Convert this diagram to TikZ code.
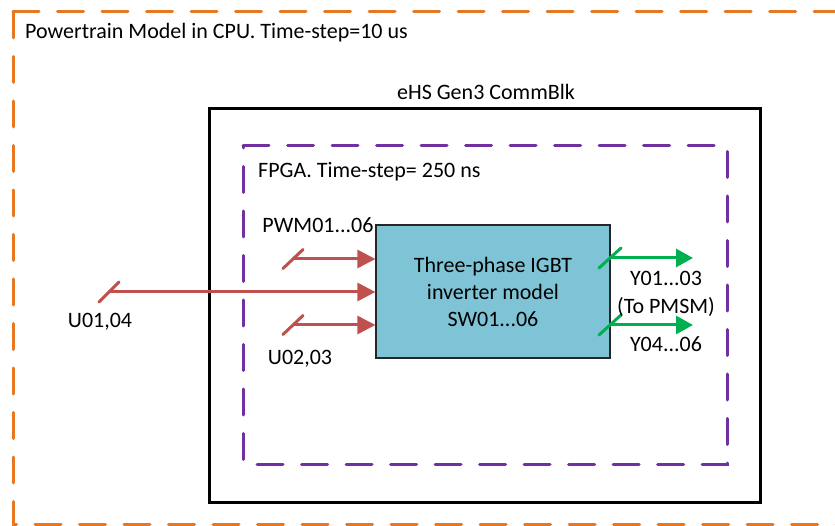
\documentclass[tikz,border=0pt]{standalone}
\usepackage{fontspec}
\setmainfont{Carlito}
\usetikzlibrary{arrows.meta}
\definecolor{orangec}{RGB}{232,119,34}
\definecolor{purplec}{RGB}{112,48,160}
\definecolor{redc}{RGB}{192,80,77}
\definecolor{greenc}{RGB}{0,176,80}
\definecolor{bluec}{RGB}{127,196,214}
\begin{document}
\begin{tikzpicture}[x=1pt,y=-1pt,
  lbl/.style={font=\fontsize{22}{26}\selectfont, inner sep=0pt, text=black},
  dashbox/.style={line width=3pt, line cap=round, dash pattern=on 26pt off 18.5pt},
  redarr/.style={draw=redc, line width=3pt, -{Triangle[length=18pt,width=18pt]}},
  greenarr/.style={draw=greenc, line width=3pt, -{Triangle[length=17pt,width=18pt]}},
  redslash/.style={draw=redc, line width=3pt, line cap=round},
  greenslash/.style={draw=greenc, line width=3pt, line cap=round},
  blk/.style={draw=black!85, line width=1.2pt, fill=bluec, minimum width=234pt, minimum height=133pt, inner sep=0pt, align=center, font=\fontsize{22}{27}\selectfont}
]
\useasboundingbox (0,0) rectangle (835,526);
\begin{scope}
\clip (0,0) rectangle (835,526);
\draw[dashbox, draw=orangec] (13,12) -- (845,12);
\draw[dashbox, draw=orangec] (13,12) -- (13,524) -- (845,524);
\end{scope}
\draw[line width=3pt, black] (209,109) rectangle (760,502);
\draw[dashbox, draw=purplec] (243,146) -- (727,146) -- (727,464) -- (243,464) -- cycle;

\node[lbl, anchor=west] (cpu) at (25,33) {Powertrain Model in CPU. Time-step=10 us};
\node[lbl] (ehs) at (486,92) {eHS Gen3 CommBlk};
\node[lbl, anchor=west] (fpga) at (258,172) {FPGA. Time-step= 250 ns};

\node[blk] (inv) at (493,291.5) {Three-phase IGBT\\inverter model\\SW01...06};

\coordinate (pwm) at (293,259);
\coordinate (u14) at (109,292);
\coordinate (u23) at (293,325);
\coordinate (y13) at (610,258);
\coordinate (y46) at (610,325);

\draw[redarr] (pwm) -- (inv.west |- pwm);
\draw[redarr] (u14) -- (inv.west |- u14);
\draw[redarr] (u23) -- (inv.west |- u23);
\draw[redslash] (pwm) ++(-10,9.5) -- ++(20,-19);
\draw[redslash] (u14) ++(-10,10) -- ++(20,-20);
\draw[redslash] (u23) ++(-10,9.5) -- ++(20,-19);

\coordinate (y13e) at (693,258);
\coordinate (y46e) at (693,325);
\draw[greenarr] (y13) -- (y13e);
\draw[greenarr] (y46) -- (y46e);
\draw[greenslash] (y13) ++(-11,10) -- ++(22,-20);
\draw[greenslash] (y46) ++(-11,10) -- ++(22,-20);

\node[lbl] (lpwm) at (318,225) {PWM01...06};
\node[lbl] (lu14) at (100,322) {U01,04};
\node[lbl] (lu23) at (300,359) {U02,03};
\node[lbl] (ly13) at (666,278) {Y01...03};
\node[lbl] (lpm) at (666,307) {(To PMSM)};
\node[lbl] (ly46) at (666,344) {Y04...06};
\end{tikzpicture}
\end{document}
